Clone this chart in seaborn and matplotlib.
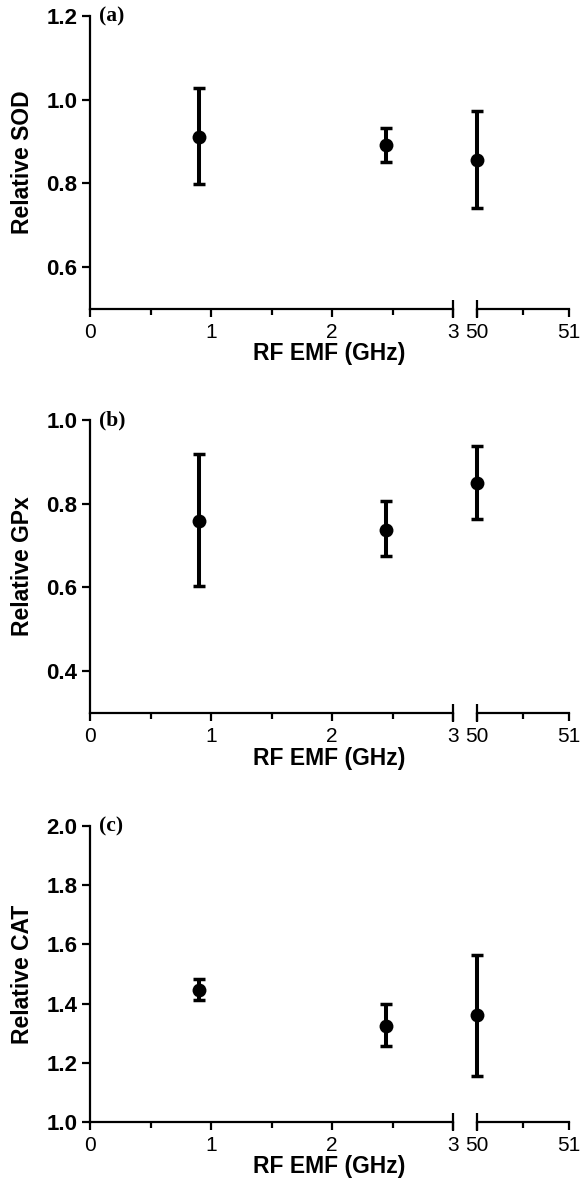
import seaborn as sns
import numpy as np
import pandas as pd
import matplotlib.pyplot as plt

# frequencies (GHz)
freq = [0.9, 2.45, 50.0]

sod = [0.912, 0.891, 0.856]
sod_lo = [0.798, 0.851, 0.741]
sod_hi = [1.029, 0.932, 0.972]

gpx = [0.759, 0.738, 0.850]
gpx_lo = [0.604, 0.675, 0.764]
gpx_hi = [0.919, 0.806, 0.937]

cat = [1.447, 1.326, 1.361]
cat_lo = [1.411, 1.256, 1.157]
cat_hi = [1.482, 1.400, 1.565]

panels = [
    ("(a)", "Relative SOD", sod, sod_lo, sod_hi, (0.5, 1.2), [0.6, 0.8, 1.0, 1.2]),
    ("(b)", "Relative GPx", gpx, gpx_lo, gpx_hi, (0.3, 1.0), [0.4, 0.6, 0.8, 1.0]),
    ("(c)", "Relative CAT", cat, cat_lo, cat_hi, (1.0, 2.0), [1.0, 1.2, 1.4, 1.6, 1.8, 2.0]),
]

sns.set_style("ticks")
plt.rcParams['font.family'] = ['Liberation Sans', 'DejaVu Sans']
plt.rcParams['text.color'] = 'black'
plt.rcParams['axes.labelcolor'] = 'black'
plt.rcParams['xtick.color'] = 'black'
plt.rcParams['ytick.color'] = 'black'
plt.rcParams['axes.edgecolor'] = 'black'

W, H = 585, 1189
fig = plt.figure(figsize=(W / 100, H / 100), dpi=100)

# pixel positions of each panel (top of y range, x-axis line)
tops = [16, 420, 826]
bots = [309, 713, 1122]
xl0, xl1, xr0, xr1 = 90, 453, 477, 569

lw = 1.6
for (tag, ylab, val, lo, hi, ylim, yticks), top, bot in zip(panels, tops, bots):
    df = pd.DataFrame({"freq": freq, "val": val, "lo": lo, "hi": hi})
    y0 = 1 - bot / H
    h = (bot - top) / H
    axl = fig.add_axes([xl0 / W, y0, (xl1 - xl0) / W, h])
    axr = fig.add_axes([xr0 / W, y0, (xr1 - xr0) / W, h])

    for ax, part, xlim, xt, xm in [
        (axl, df[df.freq <= 3], (0, 3), [0, 1, 2, 3], [0.5, 1.5, 2.5]),
        (axr, df[df.freq >= 50], (50, 51), [50, 51], [50.5]),
    ]:
        ax.errorbar(part.freq, part.val,
                    yerr=[part.val - part.lo, part.hi - part.val],
                    fmt='none', ecolor='black', elinewidth=2.9,
                    capsize=4.5, capthick=2.5, clip_on=False)
        sns.scatterplot(data=part, x="freq", y="val", ax=ax, color='black',
                        s=100, edgecolor='black', linewidth=0, zorder=5,
                        clip_on=False)
        ax.set_xlim(*xlim)
        ax.set_ylim(*ylim)
        ax.set_xticks(xt)
        ax.set_xticks(xm, minor=True)
        ax.set_xticklabels([str(t) for t in xt], fontsize=15)
        ax.tick_params(axis='x', which='major', length=6, width=lw, pad=4,
                       direction='out', color='black', labelcolor='black')
        ax.tick_params(axis='x', which='minor', length=4, width=lw,
                       direction='out', color='black')
        ax.set_xlabel("")
        ax.set_ylabel("")
        ax.patch.set_alpha(0)
        for s in ['top', 'right']:
            ax.spines[s].set_visible(False)
        for s in ['left', 'bottom']:
            ax.spines[s].set_linewidth(lw)
            ax.spines[s].set_color('black')

    # break marks crossing the axis line
    axl.plot([1], [0], marker='|', ms=13, mew=lw, color='black',
             transform=axl.transAxes, clip_on=False)
    axr.plot([0], [0], marker='|', ms=13, mew=lw, color='black',
             transform=axr.transAxes, clip_on=False)

    axr.spines['left'].set_visible(False)
    axr.set_yticks([])
    axr.tick_params(axis='y', left=False)

    axl.set_yticks(yticks)
    axl.set_yticklabels([f"{t:.1f}" for t in yticks], fontsize=16,
                        fontweight='bold')
    axl.tick_params(axis='y', length=6, width=lw, pad=3, color='black',
                    labelcolor='black')
    axl.set_ylabel(ylab, fontsize=16.5, fontweight='bold', color='black')
    axl.yaxis.set_label_coords(-0.155, 0.5)

    axl.text(0.025, 1.0, tag, transform=axl.transAxes, fontsize=15.5,
             fontweight='bold', family=['Liberation Serif', 'DejaVu Serif'],
             ha='left', va='center', color='black')

    fig.text((xl0 + xr1) / 2 / W, 1 - (bot + 45) / H, "RF EMF (GHz)",
             fontsize=16.5, fontweight='bold', ha='center', va='center',
             color='black')

fig.savefig("out.png", dpi=100, facecolor='white')
